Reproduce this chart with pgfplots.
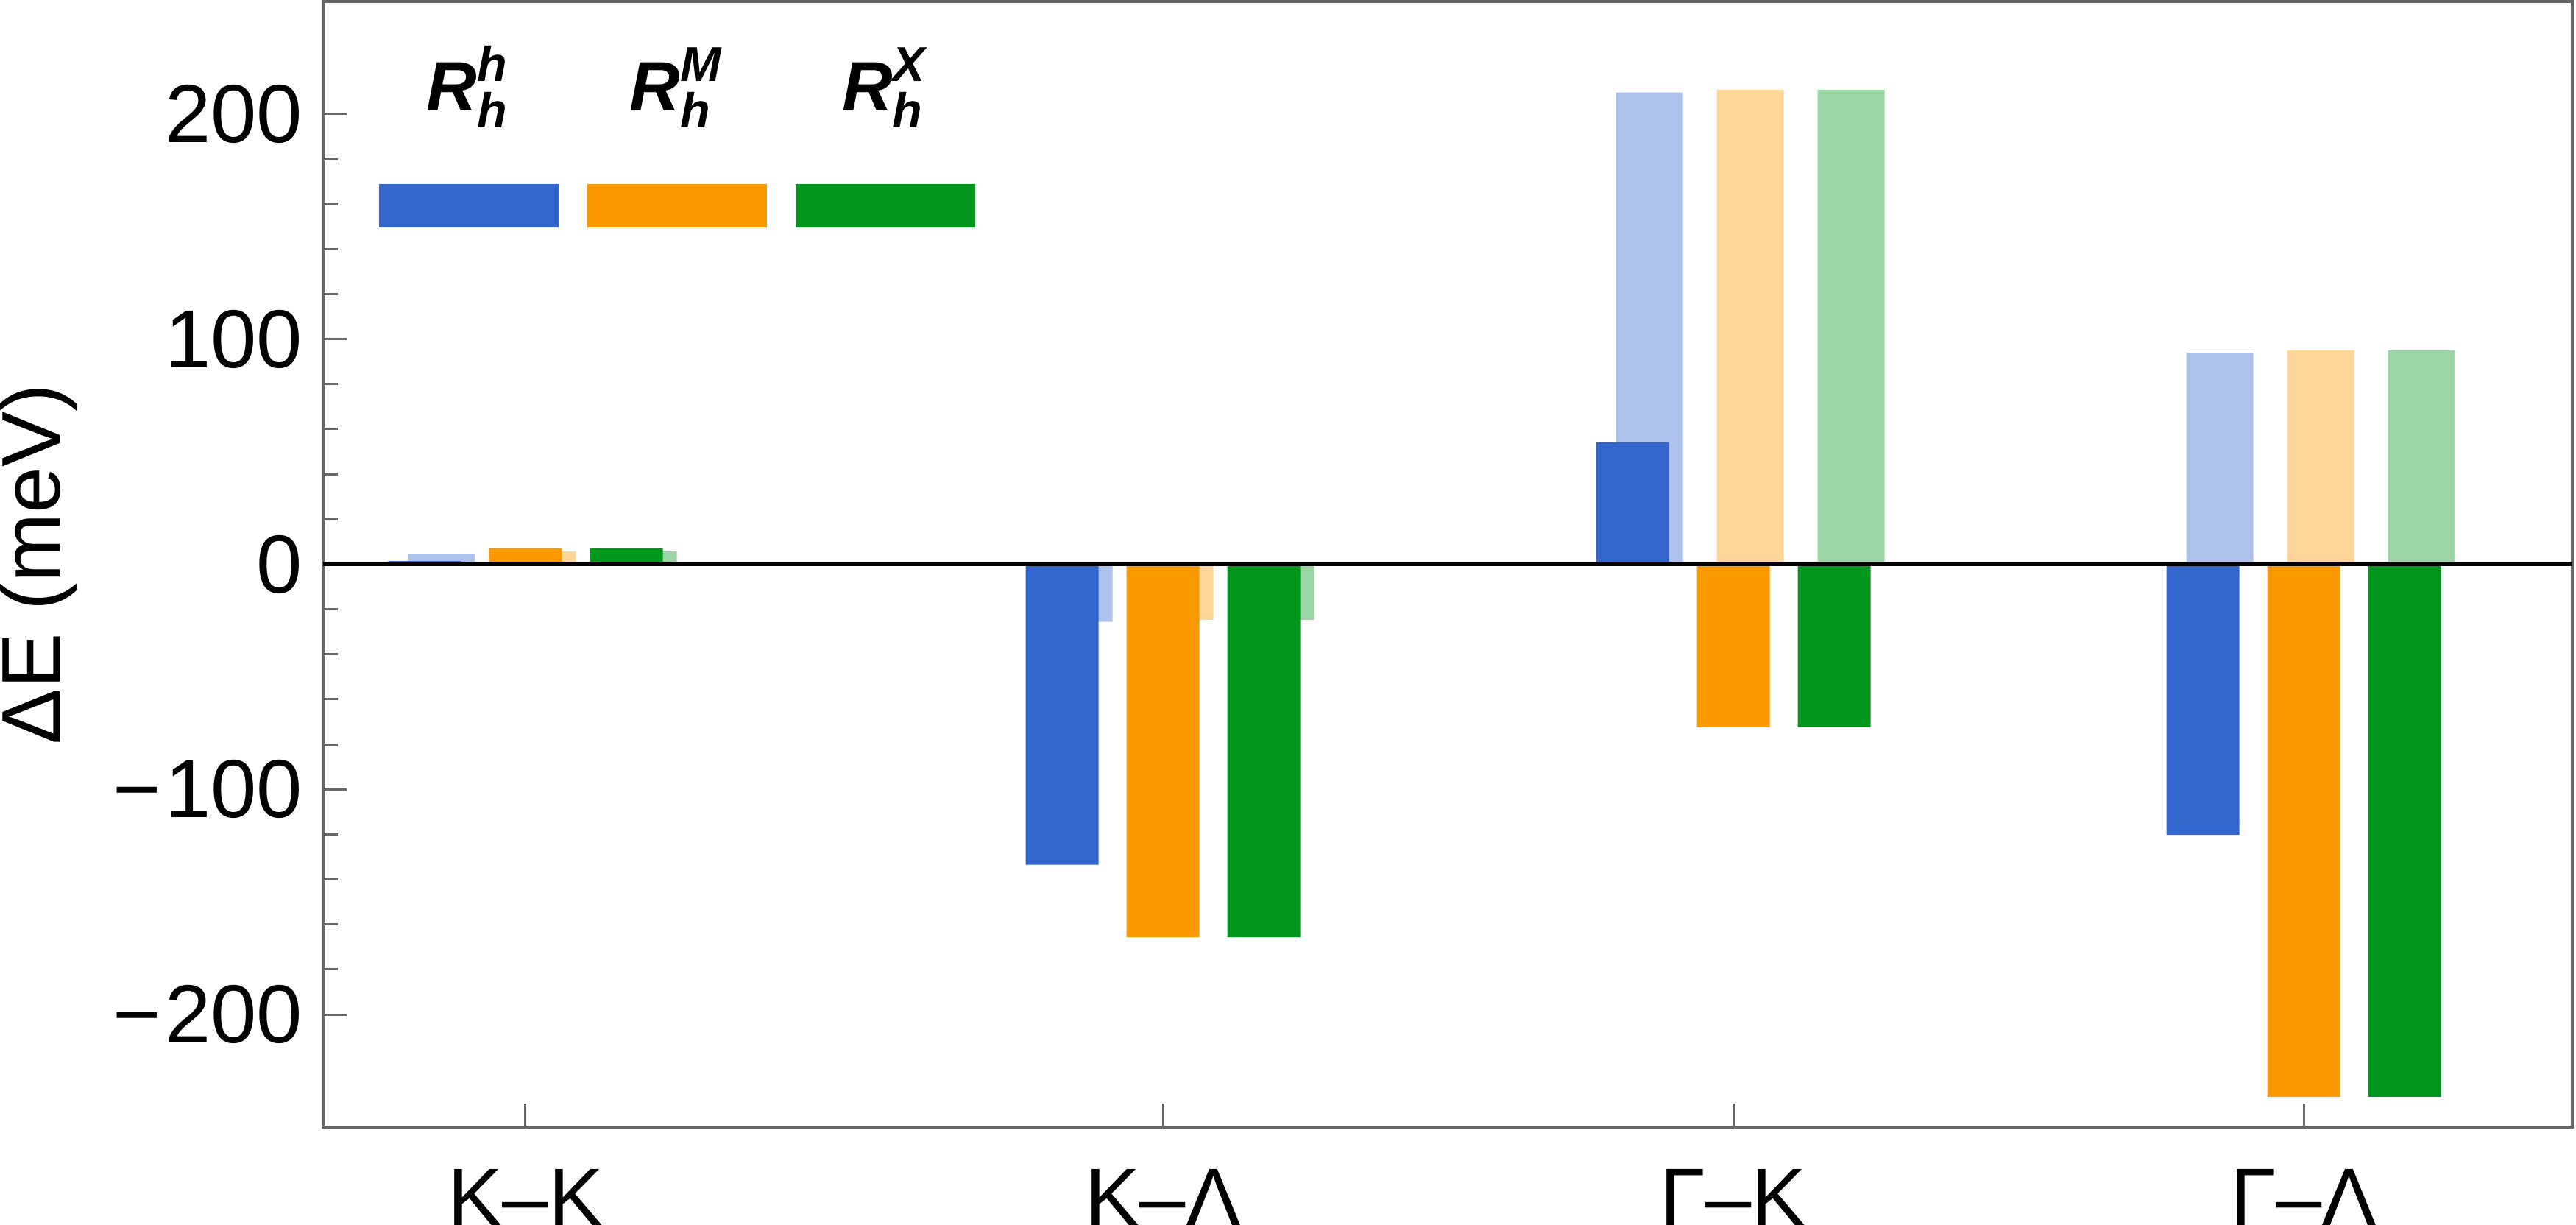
\documentclass[border=0pt]{standalone}
\usepackage{fontspec}
\setmainfont{Liberation Sans}
\usepackage{amsmath}
\usepackage{pgfplots}
\usepackage{pgfplotstable}
\pgfplotsset{compat=1.18}
\definecolor{rblue}{HTML}{3366CC}
\definecolor{rorange}{HTML}{FB9900}
\definecolor{rgreen}{HTML}{00961B}
\definecolor{pblue}{HTML}{ADC2EB}
\definecolor{porange}{HTML}{FED699}
\definecolor{pgreen}{HTML}{9AD5A3}
\definecolor{framegray}{HTML}{666666}

% x in units of 100 px from the left frame; s* solid bars, p* pale bars
\pgfplotstableread{
x      sb      so      sg      pb     po     pg
2.75   1.4     7.1     7.1     4.7    5.7    5.7
11.41  -133.5  -165.7  -165.7  -25.6  -24.7  -24.7
19.16  54.2    -72.4   -72.4   209.6  210.7  210.7
26.91  -120.2  -236.6  -236.6  94.0   95.0   95.0
}\energies

\begin{document}
\begin{tikzpicture}
\begin{axis}[
    scale only axis,
    width=305.6pt, height=152.9pt,
    xmin=0, xmax=30.56, ymin=-250, ymax=250,
    axis line style={draw=framegray, line width=0.4pt},
    tick style={draw=framegray, line width=0.3pt},
    tick align=inside,
    xtick pos=bottom, ytick pos=left,
    xtick={2.75,11.41,19.16,26.91},
    xticklabels={K–K, K–Λ, Γ–K, Γ–Λ},
    ytick={-200,-100,0,100,200},
    yticklabels={−\kern0.05em200, −\kern0.05em100, 0, 100, 200},
    minor y tick num=4,
    major tick length=3.2pt, minor tick length=2pt,
    ticklabel style={font=\fontsize{11.2}{13}\selectfont},
    xticklabel style={anchor=base, yshift=-13.5pt, inner sep=0pt},
    yticklabel style={anchor=east, inner sep=0pt, xshift=-2.6pt},
    ylabel={ΔE (meV)},
    ylabel style={at={(axis description cs:-0.1171,0.5)}, anchor=base,
        inner sep=0pt, font=\fontsize{11.3}{13}\selectfont},
]
% pale bars behind
\addplot[ybar, bar width=0.91, bar shift=-1.14, fill=pblue, draw=none] table[x=x, y=pb] {\energies};
\addplot[ybar, bar width=0.91, bar shift=0.23, fill=porange, draw=none] table[x=x, y=po] {\energies};
\addplot[ybar, bar width=0.91, bar shift=1.60, fill=pgreen, draw=none] table[x=x, y=pg] {\energies};
% solid bars
\addplot[ybar, bar width=0.99, bar shift=-1.37, fill=rblue, draw=none] table[x=x, y=sb] {\energies};
\addplot[ybar, bar width=0.99, bar shift=0, fill=rorange, draw=none] table[x=x, y=so] {\energies};
\addplot[ybar, bar width=0.99, bar shift=1.37, fill=rgreen, draw=none] table[x=x, y=sg] {\energies};
% zero line
\addplot[black, line width=0.6pt, forget plot] coordinates {(0,0) (30.56,0)};
% legend keys
\addplot[fill=rblue, draw=none, forget plot] coordinates {(0.76,149.5) (3.20,149.5) (3.20,169) (0.76,169)} -- cycle;
\addplot[fill=rorange, draw=none, forget plot] coordinates {(3.59,149.5) (6.03,149.5) (6.03,169) (3.59,169)} -- cycle;
\addplot[fill=rgreen, draw=none, forget plot] coordinates {(6.42,149.5) (8.86,149.5) (8.86,169) (6.42,169)} -- cycle;
\node[anchor=base, inner sep=0pt, font=\fontsize{9.5}{11}\selectfont\bfseries\itshape] at (axis cs:1.98,201.3) {$\text{R}^{\text{h}}_{\text{h}}$};
\node[anchor=base, inner sep=0pt, font=\fontsize{9.5}{11}\selectfont\bfseries\itshape] at (axis cs:4.81,201.3) {$\text{R}^{\text{M}}_{\text{h}}$};
\node[anchor=base, inner sep=0pt, font=\fontsize{9.5}{11}\selectfont\bfseries\itshape] at (axis cs:7.64,201.3) {$\text{R}^{\text{X}}_{\text{h}}$};
\end{axis}
\pgfresetboundingbox
\path[use as bounding box] ([xshift=-43.9pt, yshift=-13.3pt]current axis.south west)
    rectangle ([xshift=0.5pt, yshift=0.2pt]current axis.north east);
\end{tikzpicture}
\end{document}
